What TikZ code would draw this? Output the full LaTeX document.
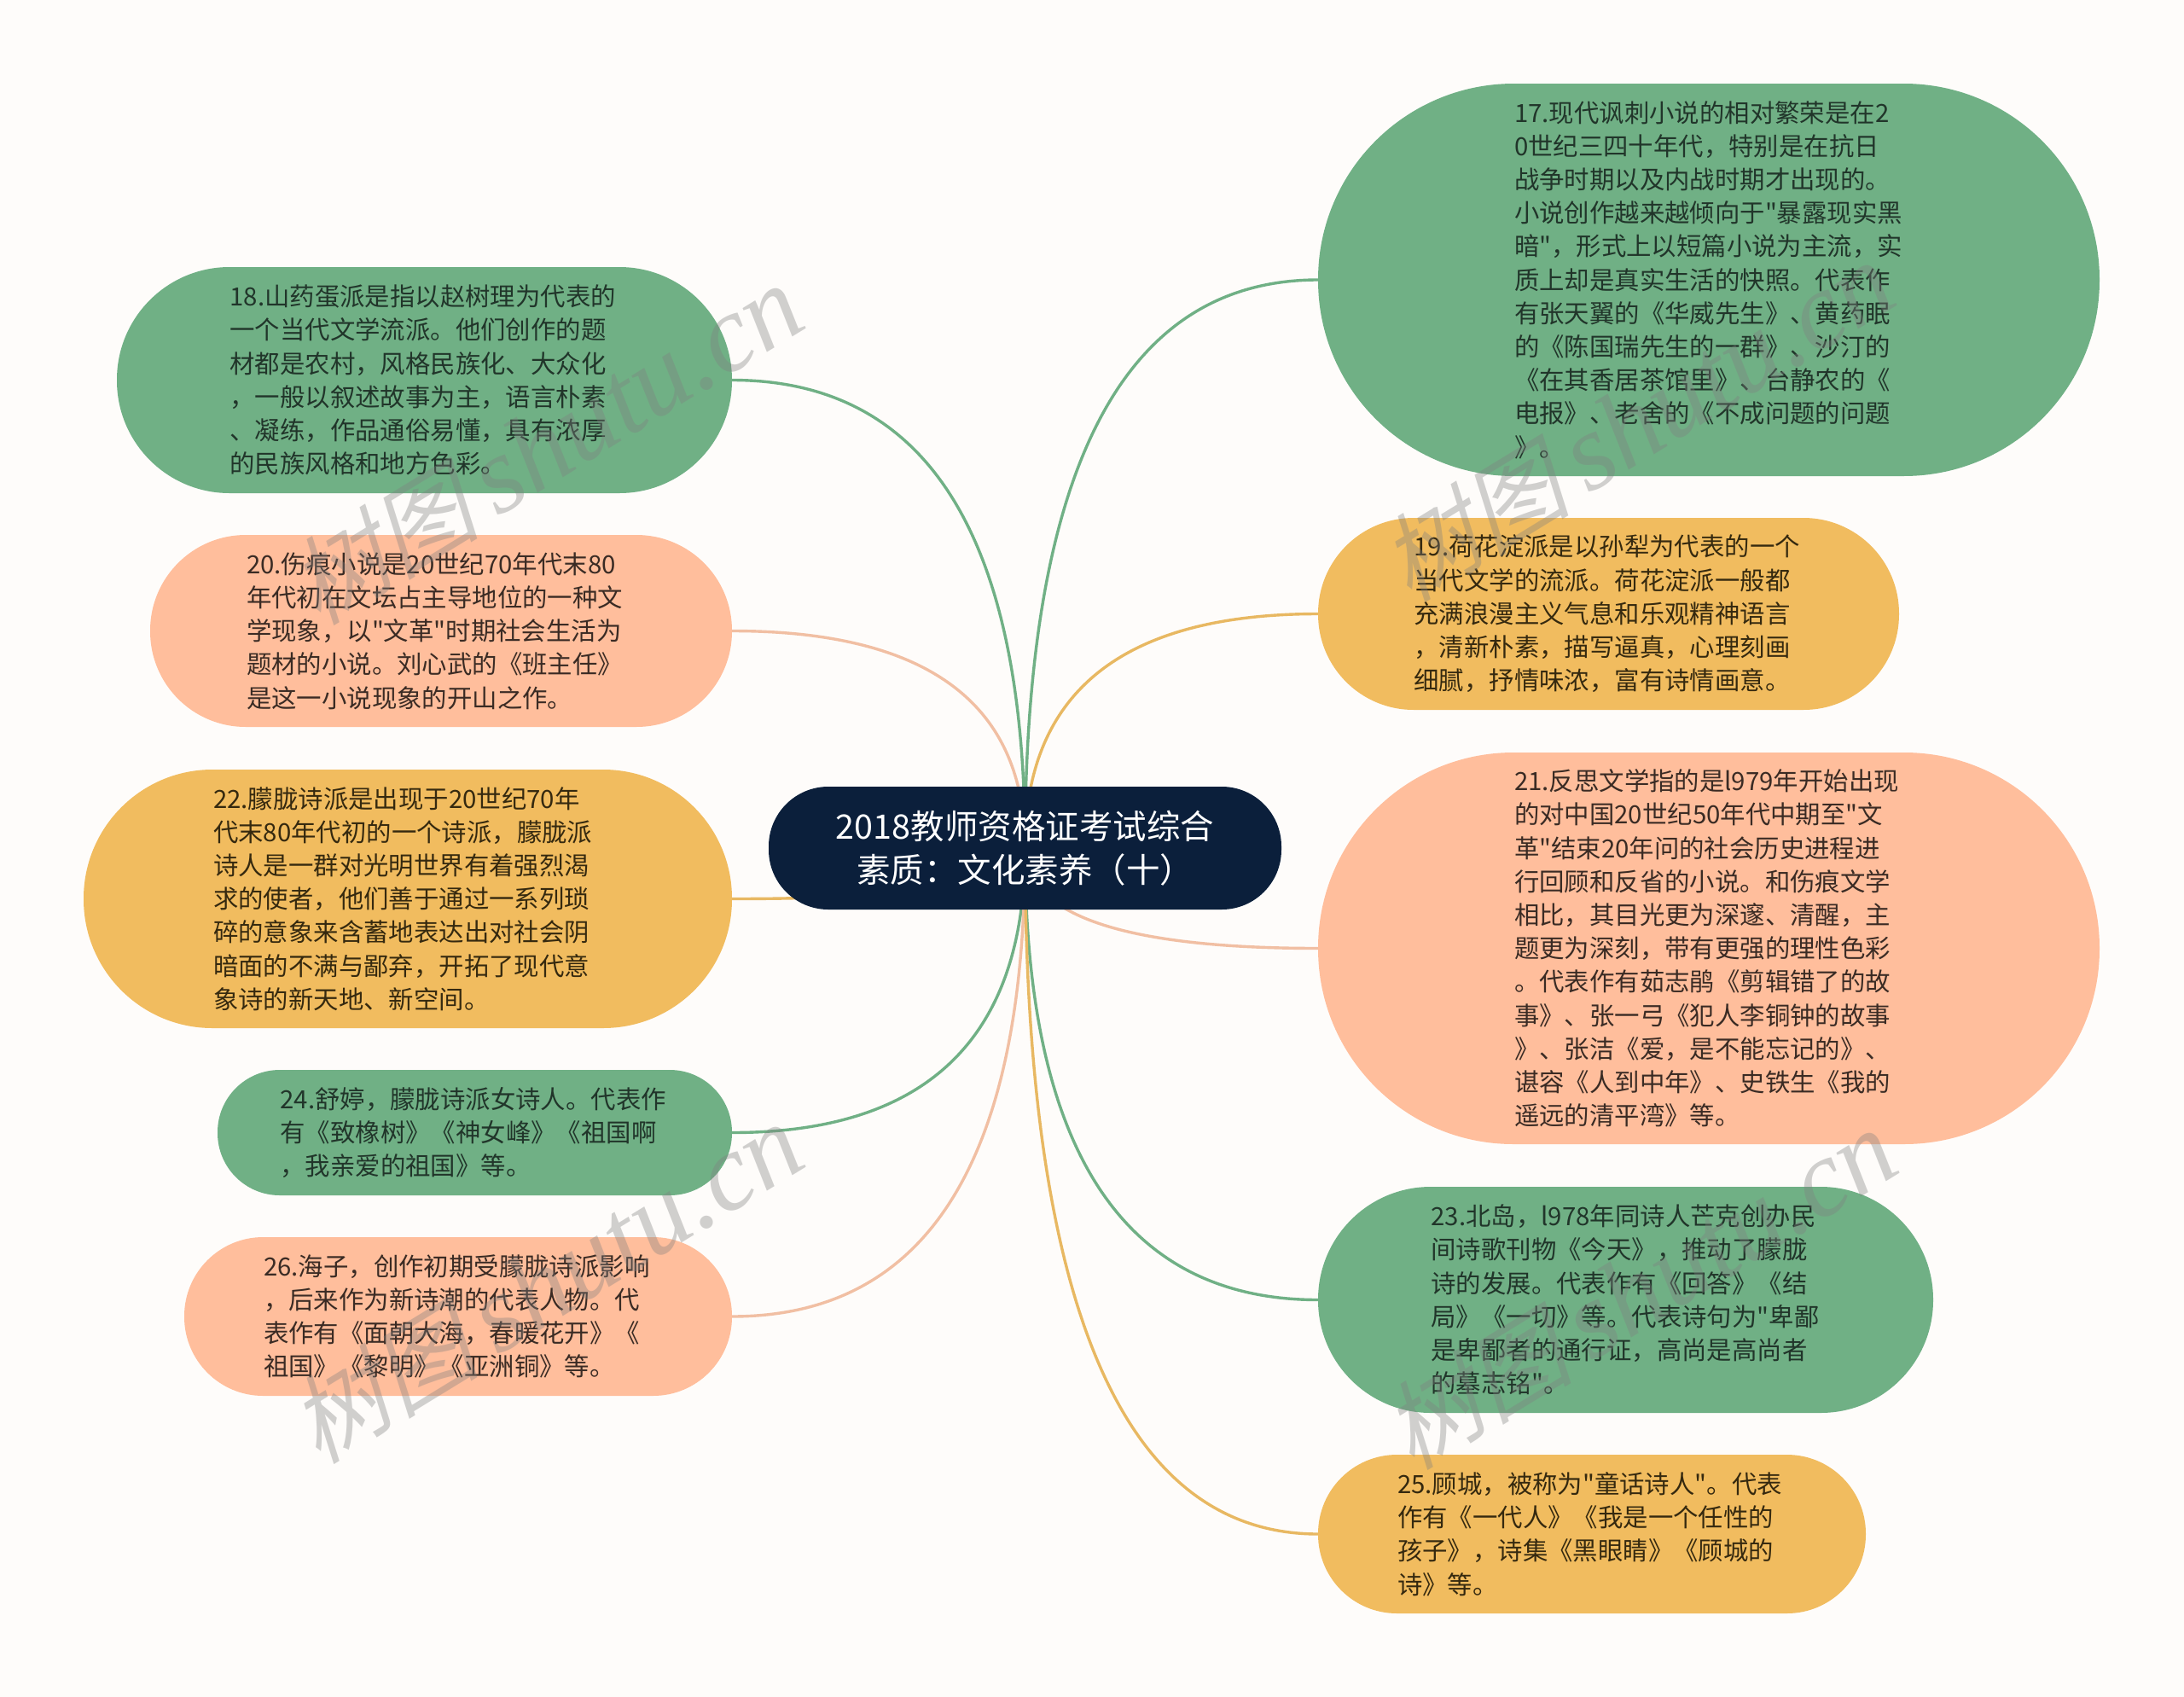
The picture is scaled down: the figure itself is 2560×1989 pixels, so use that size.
\documentclass[tikz,border=0pt]{standalone}
\usepackage{fontspec}
\newfontfamily\cjkbody{Noto Sans CJK SC}
\newfontfamily\wmcjk[FakeSlant=0.25]{Noto Sans CJK SC}
\newfontfamily\wmlat{Liberation Serif}
\usetikzlibrary{calc}
\definecolor{bgc}{HTML}{FEFCFA}
\definecolor{gf}{HTML}{70B085}
\definecolor{pf}{HTML}{FFBE9C}
\definecolor{of}{HTML}{F1BC5F}
\definecolor{rootc}{HTML}{0B1F3B}
\definecolor{ge}{HTML}{70B085}
\definecolor{pe}{HTML}{F1BFA3}
\definecolor{oe}{HTML}{E8B862}
\definecolor{gt}{HTML}{21352A}
\definecolor{pt}{HTML}{3A2B24}
\definecolor{ot}{HTML}{35290F}
\pgfdeclarelayer{back}
\pgfdeclarelayer{edges}
\pgfsetlayers{back,edges,main}
\tikzset{
  x=1pt,y=-1pt,
  pill/.style={rectangle,inner sep=0pt,outer sep=0pt,align=left,text width=456pt,
    font=\cjkbody\fontsize{29.4}{39.2}\selectfont},
  gpill/.style={pill,fill=gf,text=gt},
  ppill/.style={pill,fill=pf,text=pt},
  opill/.style={pill,fill=of,text=ot},
  rootpill/.style={rectangle,inner sep=0pt,outer sep=0pt,align=center,fill=rootc,text=white,
    minimum width=601pt,minimum height=144pt,rounded corners=70pt,
    font=\cjkbody\fontsize{39.5}{51.5}\selectfont},
  edge/.style={line width=3.4pt},
  wm/.style={rotate=31.5,text=gray,opacity=0.36,inner sep=0pt}
}
% box: name, style, x1, y1, x2, y2, text
\newcommand{\pillbox}[7]{%
  \pgfmathsetmacro{\bw}{#5-#3}\pgfmathsetmacro{\bh}{#6-#4}\pgfmathsetmacro{\br}{(#6-#4)/2-0.5}%
  \node[#2,minimum width=\bw pt,minimum height=\bh pt,rounded corners=\br pt] (#1) at ({(#3+#5)/2},{(#4+#6)/2}) {#7};}
\newcommand{\leftconn}[2]{\draw[edge,#2] (#1.east) .. controls ($(#1.east)!0.6667!(#1.east -| root.center)$) and ($(root.center)!0.6667!(#1.east -| root.center)$) .. (root.center);}
\newcommand{\rightconn}[2]{\draw[edge,#2] (#1.west) .. controls ($(#1.west)!0.6667!(#1.west -| root.center)$) and ($(root.center)!0.6667!(#1.west -| root.center)$) .. (root.center);}
\newcommand{\wmark}[3]{\node[wm] (#1) at (#2,#3) {{\wmcjk\fontsize{112}{112}\selectfont 树图}\hspace{22pt}{\wmlat\itshape\fontsize{128}{128}\selectfont shutu.cn}};}
\begin{document}
\begin{tikzpicture}
\useasboundingbox (0,0) rectangle (2560,1989);
\begin{pgfonlayer}{back}
\fill[bgc] (0,0) rectangle (2560,1989);
\end{pgfonlayer}
\node[rootpill] (root) at (1201.5,994) {2018教师资格证考试综合\\素质：文化素养（十）};
\pillbox{n18}{gpill}{137}{313}{858}{578}{18.山药蛋派是指以赵树理为代表的\\一个当代文学流派。他们创作的题\\材都是农村，风格民族化、大众化\\，一般以叙述故事为主，语言朴素\\、凝练，作品通俗易懂，具有浓厚\\的民族风格和地方色彩。}
\pillbox{n20}{ppill}{176}{627}{858}{852}{20.伤痕小说是20世纪70年代末80\\年代初在文坛占主导地位的一种文\\学现象，以"文革"时期社会生活为\\题材的小说。刘心武的《班主任》\\是这一小说现象的开山之作。}
\pillbox{n22}{opill}{98}{902}{858}{1205}{22.朦胧诗派是出现于20世纪70年\\代末80年代初的一个诗派，朦胧派\\诗人是一群对光明世界有着强烈渴\\求的使者，他们善于通过一系列琐\\碎的意象来含蓄地表达出对社会阴\\暗面的不满与鄙弃，开拓了现代意\\象诗的新天地、新空间。}
\pillbox{n24}{gpill}{255}{1254}{858}{1401}{24.舒婷，朦胧诗派女诗人。代表作\\有《致橡树》《神女峰》《祖国啊\\，我亲爱的祖国》等。}
\pillbox{n26}{ppill}{216}{1450}{858}{1636}{26.海子，创作初期受朦胧诗派影响\\，后来作为新诗潮的代表人物。代\\表作有《面朝大海，春暖花开》《\\祖国》《黎明》《亚洲铜》等。}
\pillbox{n17}{gpill}{1545}{98}{2461}{558}{17.现代讽刺小说的相对繁荣是在2\\0世纪三四十年代，特别是在抗日\\战争时期以及内战时期才出现的。\\小说创作越来越倾向于"暴露现实黑\\暗"，形式上以短篇小说为主流，实\\质上却是真实生活的快照。代表作\\有张天翼的《华威先生》、黄药眠\\的《陈国瑞先生的一群》、沙汀的\\《在其香居茶馆里》、台静农的《\\电报》、老舍的《不成问题的问题\\》。}
\pillbox{n19}{opill}{1545}{607}{2226}{832}{19.荷花淀派是以孙犁为代表的一个\\当代文学的流派。荷花淀派一般都\\充满浪漫主义气息和乐观精神语言\\，清新朴素，描写逼真，心理刻画\\细腻，抒情味浓，富有诗情画意。}
\pillbox{n21}{ppill}{1545}{882}{2461}{1341}{21.反思文学指的是l979年开始出现\\的对中国20世纪50年代中期至"文\\革"结束20年问的社会历史进程进\\行回顾和反省的小说。和伤痕文学\\相比，其目光更为深邃、清醒，主\\题更为深刻，带有更强的理性色彩\\。代表作有茹志鹃《剪辑错了的故\\事》、张一弓《犯人李铜钟的故事\\》、张洁《爱，是不能忘记的》、\\谌容《人到中年》、史铁生《我的\\遥远的清平湾》等。}
\pillbox{n23}{gpill}{1545}{1391}{2266}{1656}{23.北岛，l978年同诗人芒克创办民\\间诗歌刊物《今天》，推动了朦胧\\诗的发展。代表作有《回答》《结\\局》《一切》等。代表诗句为"卑鄙\\是卑鄙者的通行证，高尚是高尚者\\的墓志铭"。}
\pillbox{n25}{opill}{1545}{1705}{2187}{1891}{25.顾城，被称为"童话诗人"。代表\\作有《一代人》《我是一个任性的\\孩子》，诗集《黑眼睛》《顾城的\\诗》等。}
\begin{pgfonlayer}{edges}
\leftconn{n18}{ge}
\leftconn{n20}{pe}
\leftconn{n22}{oe}
\leftconn{n24}{ge}
\leftconn{n26}{pe}
\rightconn{n17}{ge}
\rightconn{n19}{oe}
\rightconn{n21}{pe}
\rightconn{n23}{ge}
\rightconn{n25}{oe}
\end{pgfonlayer}
\wmark{w1}{640}{522}
\wmark{w2}{1919}{495}
\wmark{w3}{640}{1505}
\wmark{w4}{1922}{1512}
\end{tikzpicture}
\end{document}
